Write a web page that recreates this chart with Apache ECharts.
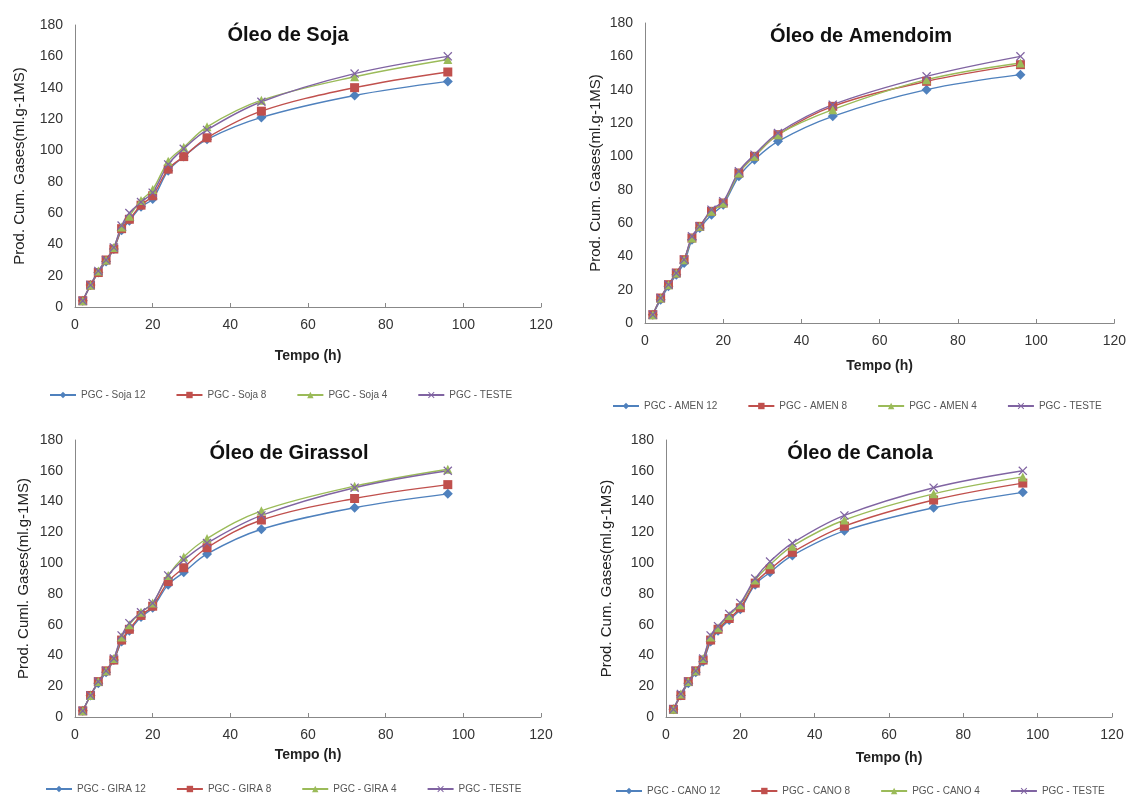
<!DOCTYPE html>
<html>
<head>
<meta charset="utf-8">
<script src="https://cdn.jsdelivr.net/npm/echarts@6/dist/echarts.min.js"></script>
<style>
  html, body { margin: 0; padding: 0; background: #fff; }
  #chart { width: 1129px; height: 798px; }
</style>
</head>
<body>
<div id="chart"></div>
<script>
// tempo de incubação (h)
const tempo = [2, 4, 6, 8, 10, 12, 14, 17, 20, 24, 28, 34, 48, 72, 96];

// Óleo de Soja
const soja12 = [4, 14, 22, 29, 37, 49, 55, 64, 69, 87, 96, 107, 121, 135, 144];
const soja8 = [4, 14, 22, 30, 37, 50, 56, 65, 71, 88, 96, 108, 125, 140, 150];
const soja4 = [4, 14, 23, 30, 38, 51, 58, 68, 75, 93, 102, 115, 132, 147, 158];
const sojaTeste = [4, 14, 23, 30, 38, 52, 60, 67, 73, 91, 101, 113, 131, 149, 160];

// Óleo de Amendoim
const amen12 = [5, 14, 22, 29, 36, 50, 57, 65, 71, 88, 98, 109, 124, 140, 149];
const amen8 = [5, 15, 23, 30, 38, 51, 58, 67, 72, 90, 100, 113, 130, 145, 155];
const amen4 = [5, 15, 23, 30, 38, 51, 58, 67, 72, 90, 100, 113, 128, 146, 156];
const amenTeste = [5, 15, 23, 30, 38, 52, 58, 68, 73, 91, 101, 114, 131, 148, 160];

// Óleo de Girassol
const gira12 = [4, 14, 22, 29, 37, 49, 56, 65, 71, 86, 94, 106, 122, 136, 145];
const gira8 = [4, 14, 23, 30, 37, 50, 57, 66, 72, 88, 97, 110, 128, 142, 151];
const gira4 = [4, 14, 23, 30, 38, 52, 60, 68, 74, 92, 104, 116, 134, 150, 161];
const giraTeste = [4, 14, 23, 30, 38, 53, 61, 68, 74, 92, 102, 113, 131, 149, 160];

// Óleo de Canola
const cano12 = [5, 14, 22, 29, 36, 49, 56, 63, 70, 86, 94, 105, 121, 136, 146];
const cano8 = [5, 14, 23, 30, 37, 50, 57, 64, 71, 87, 96, 107, 124, 141, 152];
const cano4 = [5, 15, 23, 30, 38, 52, 58, 66, 73, 89, 99, 111, 128, 145, 156];
const canoTeste = [5, 15, 23, 30, 38, 53, 59, 67, 74, 90, 101, 113, 131, 149, 160];

const cores = ['#4F81BD', '#C0504D', '#9BBB59', '#8064A2'];
const simbolos = ['diamond', 'rect', 'triangle',
  'path://M0,1L1,0L5,4L9,0L10,1L6,5L10,9L9,10L5,6L1,10L0,9L4,5Z'];
const tamanhos = [10, 9, 9, 9];

const paineis = [
  {
    titulo: 'Óleo de Soja', yNome: 'Prod. Cum. Gases(ml.g-1MS)',
    nomes: ['PGC - Soja 12', 'PGC - Soja 8', 'PGC - Soja 4', 'PGC - TESTE'],
    dados: [soja12, soja8, soja4, sojaTeste],
    grid: {left: 75, top: 25, width: 466, height: 282},
    tituloPos: [283, 20], xGap: 42, yGap: 48, legenda: [44, 385]
  },
  {
    titulo: 'Óleo de Amendoim', yNome: 'Prod. Cum. Gases(ml.g-1MS)',
    nomes: ['PGC - AMEN 12', 'PGC - AMEN 8', 'PGC - AMEN 4', 'PGC - TESTE'],
    dados: [amen12, amen8, amen4, amenTeste],
    grid: {left: 645, top: 23, width: 470, height: 300},
    tituloPos: [856, 21], xGap: 36, yGap: 42, legenda: [607, 396]
  },
  {
    titulo: 'Óleo de Girassol', yNome: 'Prod. Cuml. Gases(ml.g-1MS)',
    nomes: ['PGC - GIRA 12', 'PGC - GIRA 8', 'PGC - GIRA 4', 'PGC - TESTE'],
    dados: [gira12, gira8, gira4, giraTeste],
    grid: {left: 75, top: 440, width: 466, height: 277},
    tituloPos: [284, 438], xGap: 31, yGap: 44, legenda: [40, 779]
  },
  {
    titulo: 'Óleo de Canola', yNome: 'Prod. Cum. Gases(ml.g-1MS)',
    nomes: ['PGC - CANO 12', 'PGC - CANO 8', 'PGC - CANO 4', 'PGC - TESTE'],
    dados: [cano12, cano8, cano4, canoTeste],
    grid: {left: 666, top: 440, width: 446, height: 277},
    tituloPos: [855, 438], xGap: 34, yGap: 52, legenda: [610, 781]
  }
];

const fonte = '"Liberation Sans", Arial, sans-serif';
const option = {
  backgroundColor: '#fff',
  animation: false,
  title: [], legend: [], grid: [], xAxis: [], yAxis: [], series: []
};

paineis.forEach(function (p, i) {
  option.grid.push(p.grid);
  option.title.push({
    text: p.titulo, left: p.tituloPos[0], top: p.tituloPos[1], textAlign: 'center',
    textStyle: {fontFamily: fonte, fontSize: 20, fontWeight: 'bold', color: '#111'}
  });
  option.legend.push({
    data: p.nomes, left: p.legenda[0], top: p.legenda[1],
    itemWidth: 26, itemHeight: 8, itemGap: 30,
    textStyle: {fontFamily: fonte, fontSize: 10, color: '#555'}
  });
  option.xAxis.push({
    type: 'value', gridIndex: i, min: 0, max: 120, interval: 20,
    name: 'Tempo (h)', nameLocation: 'middle', nameGap: p.xGap,
    nameTextStyle: {fontFamily: fonte, fontSize: 14, fontWeight: 'bold', color: '#222'},
    axisLine: {lineStyle: {color: '#888'}},
    axisTick: {show: true, inside: true, length: 4, lineStyle: {color: '#888'}},
    axisLabel: {fontFamily: fonte, fontSize: 14, color: '#333', margin: 11},
    splitLine: {show: false}
  });
  option.yAxis.push({
    type: 'value', gridIndex: i, min: 0, max: 180, interval: 20,
    name: p.yNome, nameLocation: 'middle', nameGap: p.yGap,
    nameTextStyle: {fontFamily: fonte, fontSize: 15, color: '#222'},
    axisLine: {show: true, lineStyle: {color: '#888'}},
    axisTick: {show: false},
    axisLabel: {fontFamily: fonte, fontSize: 14, color: '#333', margin: 12},
    splitLine: {show: false}
  });
  p.dados.forEach(function (valores, j) {
    option.series.push({
      name: p.nomes[j], type: 'line', xAxisIndex: i, yAxisIndex: i,
      data: tempo.map(function (t, k) { return [t, valores[k]]; }),
      smooth: 0.35,
      symbol: simbolos[j], symbolSize: tamanhos[j],
      lineStyle: {width: 1.4, color: cores[j]},
      itemStyle: {color: cores[j]}
    });
  });
});

const chart = echarts.init(document.getElementById('chart'));
chart.setOption(option);
</script>
</body>
</html>
